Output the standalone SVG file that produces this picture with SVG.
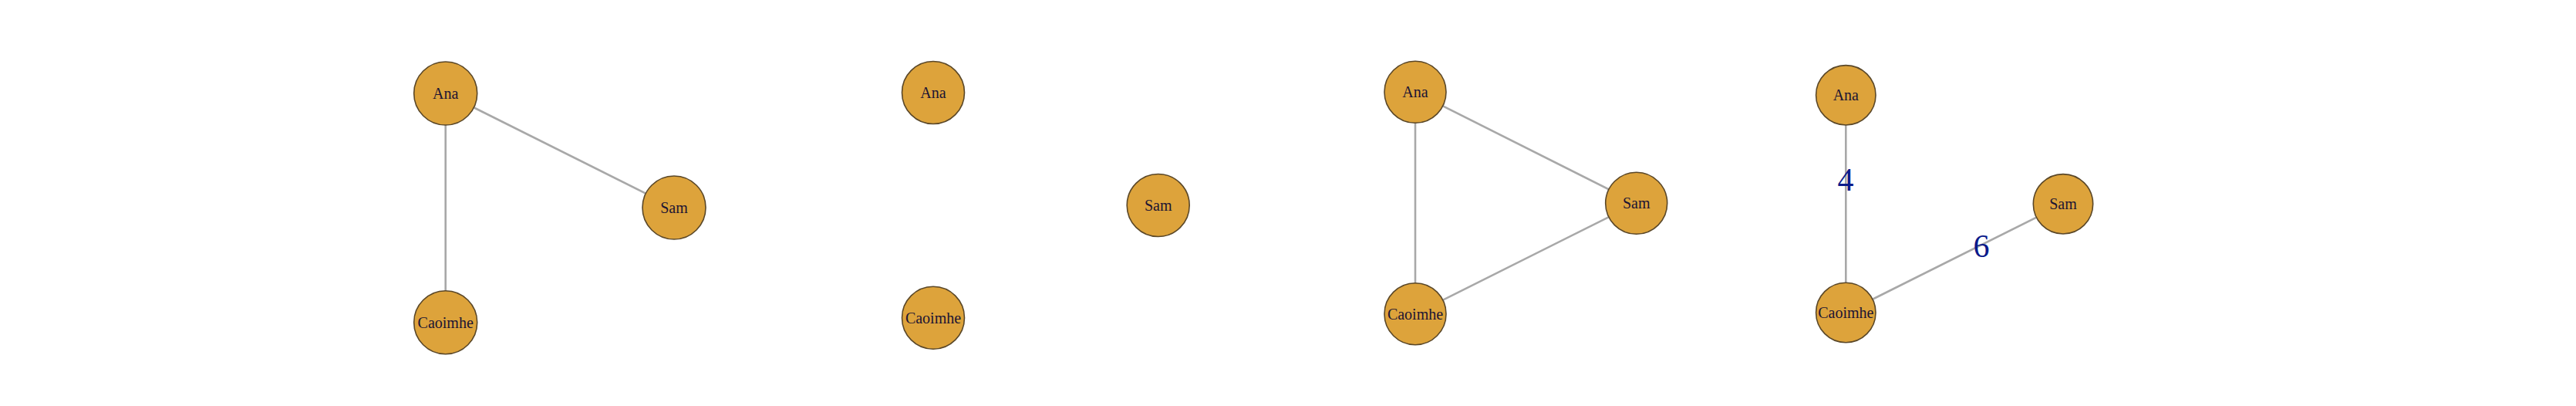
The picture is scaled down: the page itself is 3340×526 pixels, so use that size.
<svg xmlns="http://www.w3.org/2000/svg" width="3340" height="526" viewBox="0 0 3340 526">
<style>
.e{stroke:#a8a8a8;stroke-width:2.6;fill:none}
.n{fill:#dda33b;stroke:#5a4728;stroke-width:1.6}
.t{font-family:"Liberation Serif","Times New Roman",serif;font-size:20px;fill:#1c1433;text-anchor:middle;dominant-baseline:central}
.w{font-family:"Liberation Serif","Times New Roman",serif;font-size:42px;fill:#0b1a8a;text-anchor:middle;dominant-baseline:central}
</style>
<rect width="3340" height="526" fill="#ffffff"/>
<g id="connectors">
<line class="e" x1="577.7" y1="121" x2="874" y2="269"/>
<line class="e" x1="577.7" y1="121" x2="577.7" y2="417.7"/>
<line class="e" x1="1835" y1="119.3" x2="2121.7" y2="263.3"/>
<line class="e" x1="1835" y1="119.3" x2="1835" y2="406.7"/>
<line class="e" x1="1835" y1="406.7" x2="2121.7" y2="263.3"/>
<line class="e" x1="2393.3" y1="123.3" x2="2393.3" y2="405"/>
<line class="e" x1="2393.3" y1="405" x2="2675" y2="264.3"/>
<text class="w" x="2393" y="233">4</text>
<text class="w" x="2569" y="319">6</text>
</g>
<g id="g1-ana"><circle class="n" cx="577.7" cy="121" r="41"/><text class="t" x="577.7" y="121">Ana</text></g>
<g id="g1-sam"><circle class="n" cx="874" cy="269" r="41"/><text class="t" x="874" y="269">Sam</text></g>
<g id="g1-caoimhe"><circle class="n" cx="577.7" cy="417.7" r="41"/><text class="t" x="577.7" y="417.7">Caoimhe</text></g>
<g id="g2-ana"><circle class="n" cx="1210" cy="120" r="40.5"/><text class="t" x="1210" y="120">Ana</text></g>
<g id="g2-sam"><circle class="n" cx="1501.7" cy="266" r="40.5"/><text class="t" x="1501.7" y="266">Sam</text></g>
<g id="g2-caoimhe"><circle class="n" cx="1210" cy="411.7" r="40.5"/><text class="t" x="1210" y="411.7">Caoimhe</text></g>
<g id="g3-ana"><circle class="n" cx="1835" cy="119.3" r="40"/><text class="t" x="1835" y="119.3">Ana</text></g>
<g id="g3-sam"><circle class="n" cx="2121.7" cy="263.3" r="40"/><text class="t" x="2121.7" y="263.3">Sam</text></g>
<g id="g3-caoimhe"><circle class="n" cx="1835" cy="406.7" r="40"/><text class="t" x="1835" y="406.7">Caoimhe</text></g>
<g id="g4-ana"><circle class="n" cx="2393.3" cy="123.3" r="38.7"/><text class="t" x="2393.3" y="123.3">Ana</text></g>
<g id="g4-sam"><circle class="n" cx="2675" cy="264.3" r="38.7"/><text class="t" x="2675" y="264.3">Sam</text></g>
<g id="g4-caoimhe"><circle class="n" cx="2393.3" cy="405" r="38.7"/><text class="t" x="2393.3" y="405">Caoimhe</text></g>
</svg>
